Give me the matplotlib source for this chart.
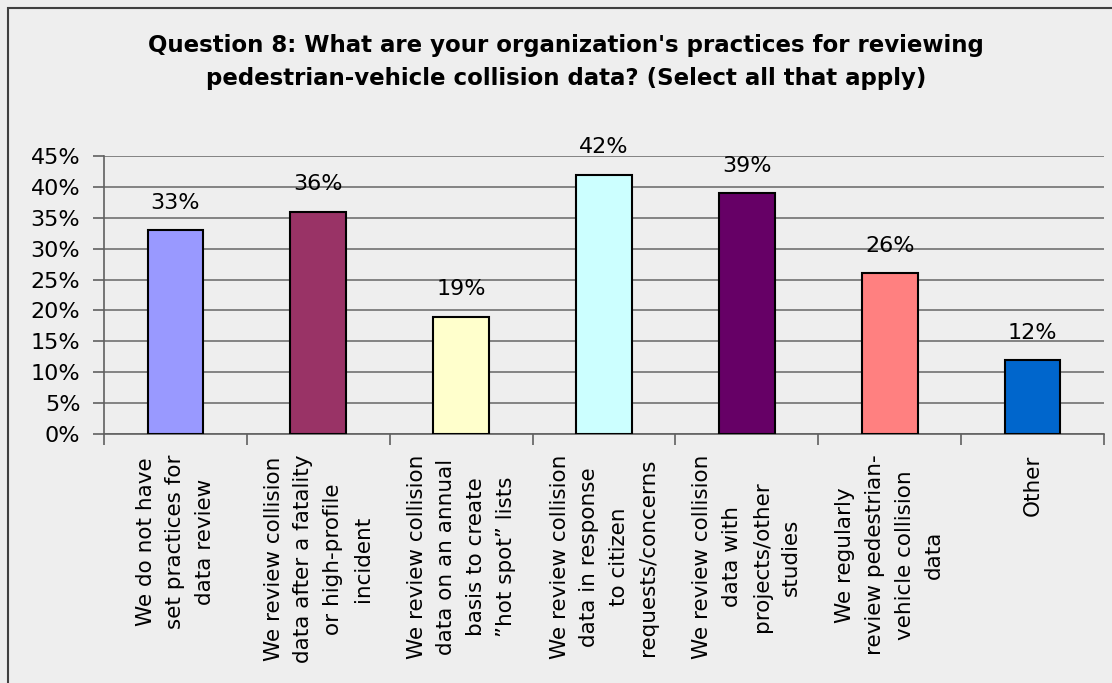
import matplotlib.pyplot as plt
import numpy as np
from matplotlib.patches import Rectangle

# réponses à la question 8 (pourcentages)
categories = [
    "We do not have\nset practices for\ndata review",
    "We review collision\ndata after a fatality\nor high-profile\nincident",
    "We review collision\ndata on an annual\nbasis to create\n\u201dhot spot\u201d lists",
    "We review collision\ndata in response\nto citizen\nrequests/concerns",
    "We review collision\ndata with\nprojects/other\nstudies",
    "We regularly\nreview pedestrian-\nvehicle collision\ndata",
    "Other",
]
values = [33, 36, 19, 42, 39, 26, 12]
colors = ["#9999FF", "#993366", "#FFFFCC", "#CCFFFF", "#660066", "#FF8080", "#0066CC"]

bg = "#EEEEEE"
fig = plt.figure(figsize=(11.12, 6.83), dpi=100, facecolor=bg)
ax = fig.add_axes([0.0935, 0.3646, 0.8993, 0.407], facecolor=bg)

# cadre du graphique
fig.patches.append(Rectangle((8 / 1112, -0.1), 1.2, 1 - 8 / 683 + 0.1,
                             transform=fig.transFigure, fill=False,
                             edgecolor="#404040", linewidth=1.5))

x = np.arange(len(values))
ax.bar(x, values, width=0.39, color=colors, edgecolor="black", linewidth=1.5, zorder=3)
for xi, v in zip(x, values):
    ax.text(xi, v + 2.8, f"{v:.0f}%", ha="center", va="bottom", fontsize=16)

ax.set_xlim(-0.5, len(values) - 0.5)
ax.set_ylim(0, 45)
ax.set_yticks(np.arange(0, 46, 5))
ax.set_yticklabels([f"{t}%" for t in range(0, 46, 5)], fontsize=16)
ax.yaxis.grid(True, color="#707070", linewidth=1.2, zorder=0)

ax.set_xticks(x)
ax.set_xticklabels(categories, rotation=90, fontsize=15.5, linespacing=1.6,
                   ha="center", va="top", multialignment="center")
ax.tick_params(axis="x", which="major", length=0, pad=15)
ax.set_xticks(np.arange(-0.5, len(values)), minor=True)
ax.tick_params(axis="x", which="minor", length=8, color="#606060", width=1.2, direction="out")
ax.tick_params(axis="y", length=8, color="#606060", width=1.2, pad=9)

for s in ["top", "right"]:
    ax.spines[s].set_visible(False)
for s in ["left", "bottom"]:
    ax.spines[s].set_color("#606060")
    ax.spines[s].set_linewidth(1.2)

fig.text(0.509, 1 - 62 / 683,
         "Question 8: What are your organization's practices for reviewing\n"
         "pedestrian-vehicle collision data? (Select all that apply)",
         ha="center", va="center", fontsize=16.5, fontweight="bold", linespacing=1.6)

fig.savefig("out.png", dpi=100, facecolor=bg)
